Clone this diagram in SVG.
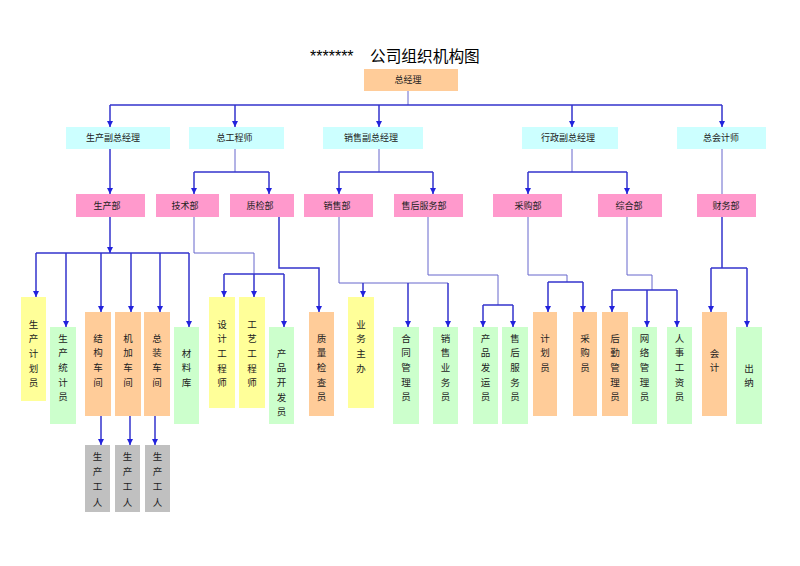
<svg xmlns="http://www.w3.org/2000/svg" width="800" height="566" viewBox="0 0 800 566">
<style>
.t{font-family:"Noto Sans CJK SC","Liberation Sans",sans-serif;font-size:9px;fill:#222;text-anchor:middle}
.v{font-family:"Noto Sans CJK SC","Liberation Sans",sans-serif;font-size:9.5px;fill:#222;text-anchor:middle}
.pe{fill:#FFCC99}.cy{fill:#CCFFFF}.pk{fill:#FF99CC}.ye{fill:#FFFF99}.gr{fill:#CCFFCC}.gy{fill:#C0C0C0}
.k{fill:none;stroke:#3333CC;stroke-width:1.5}
.n{fill:none;stroke:#6666CC;stroke-width:1}
.a{marker-end:url(#ar)}
</style>
<defs>
<marker id="ar" markerUnits="userSpaceOnUse" markerWidth="7" markerHeight="7" refX="6" refY="3" orient="auto"><path d="M0,0 L6,3 L0,6 z" fill="#2222DD"/></marker>
</defs>
<rect width="800" height="566" fill="#fff"/>
<g id="title">
<text x="310" y="62" font-family="Liberation Sans,sans-serif" font-size="16" fill="#000">*******</text>
<text x="370" y="62" font-family="Noto Sans CJK SC,Liberation Sans,sans-serif" font-size="15.7" fill="#000">公司组织机构图</text>
</g>
<g id="connectors">
<path class="n" d="M408,91 V105"/>
<path class="k" d="M110,105 H722"/>
<path class="k a" d="M110,105 V127"/><path class="k a" d="M235,105 V127"/><path class="k a" d="M379,105 V127"/><path class="k a" d="M572,105 V127"/><path class="k a" d="M722,105 V127"/>
<path class="k a" d="M110,149 V194"/>
<path class="n" d="M235,149 V172"/><path class="k" d="M194,172 H269"/><path class="k a" d="M194,172 V194"/><path class="k a" d="M269,172 V194"/>
<path class="n" d="M379,149 V172"/><path class="k" d="M339,172 H433"/><path class="k a" d="M339,172 V194"/><path class="k a" d="M433,172 V194"/>
<path class="n" d="M572,149 V172"/><path class="k" d="M528,172 H627"/><path class="k a" d="M528,172 V194"/><path class="k a" d="M627,172 V194"/>
<path class="n" d="M722,149 V194"/>
<path class="k a" d="M110,217 V253"/><path class="k" d="M36,253 H189"/>
<path class="k a" d="M36,253 V297"/><path class="k a" d="M66,253 V327"/><path class="k a" d="M101,253 V312"/><path class="k a" d="M131,253 V312"/><path class="k a" d="M160,253 V312"/><path class="k a" d="M189,253 V327"/>
<path class="k a" d="M101,416 V445"/><path class="k a" d="M130,416 V445"/><path class="k a" d="M155,416 V445"/>
<path class="n" d="M194,217 V253 H254 V274"/><path class="k" d="M224,274 H284"/>
<path class="k a" d="M224,274 V297"/><path class="k a" d="M254,274 V297"/><path class="k a" d="M284,274 V327"/>
<path class="k a" d="M279,217 V268 H319 V312"/>
<path class="n" d="M339,217 V283 H448"/>
<path class="k a" d="M363,283 V297"/><path class="k a" d="M408,283 V327"/><path class="k a" d="M448,283 V327"/>
<path class="n" d="M428,217 V275 H498 V305"/><path class="k" d="M483,305 H513"/><path class="k a" d="M483,305 V327"/><path class="k a" d="M513,305 V327"/>
<path class="n" d="M528,217 V275 H567 V282"/><path class="k" d="M548,282 H583"/><path class="k a" d="M548,282 V312"/><path class="k a" d="M583,282 V312"/>
<path class="n" d="M627,217 V275 H652 V290"/><path class="k" d="M612,290 H677"/><path class="k a" d="M612,290 V312"/><path class="k a" d="M647,290 V327"/><path class="k a" d="M677,290 V327"/>
<path class="k" d="M722,217 V268"/><path class="k" d="M711,268 H747"/><path class="k a" d="M711,268 V312"/><path class="k a" d="M747,268 V327"/>
</g>
<g id="zongjingli"><rect class="pe" x="364" y="69" width="94" height="22"/><text class="t" x="408" y="83">总经理</text></g>
<g id="scfzjl"><rect class="cy" x="66" y="127" width="104" height="22"/><text class="t" x="113" y="141">生产副总经理</text></g>
<g id="zgcs"><rect class="cy" x="189" y="127" width="95" height="22"/><text class="t" x="234.5" y="141">总工程师</text></g>
<g id="xsfzjl"><rect class="cy" x="323" y="127" width="100" height="22"/><text class="t" x="371" y="141">销售副总经理</text></g>
<g id="xzfzjl"><rect class="cy" x="522" y="127" width="96" height="22"/><text class="t" x="568" y="141">行政副总经理</text></g>
<g id="zkjs"><rect class="cy" x="677" y="127" width="89" height="22"/><text class="t" x="721" y="141">总会计师</text></g>
<g id="scb"><rect class="pk" x="76" y="194" width="69" height="23"/><text class="t" x="107" y="209">生产部</text></g>
<g id="jsb"><rect class="pk" x="156" y="194" width="63" height="23"/><text class="t" x="185" y="209">技术部</text></g>
<g id="zjb"><rect class="pk" x="230" y="194" width="64" height="23"/><text class="t" x="260" y="209">质检部</text></g>
<g id="xsb"><rect class="pk" x="304" y="194" width="69" height="23"/><text class="t" x="337" y="209">销售部</text></g>
<g id="shfwb"><rect class="pk" x="394" y="194" width="69" height="23"/><text class="t" x="424" y="209">售后服务部</text></g>
<g id="cgb"><rect class="pk" x="493" y="194" width="69" height="23"/><text class="t" x="528" y="209">采购部</text></g>
<g id="zhb"><rect class="pk" x="598" y="194" width="64" height="23"/><text class="t" x="629" y="209">综合部</text></g>
<g id="cwb"><rect class="pk" x="697" y="194" width="59" height="23"/><text class="t" x="726" y="209">财务部</text></g>
<g id="scjhy"><rect class="ye" x="21" y="297" width="25" height="104"/><text class="v" y="327.5"><tspan x="33.5">生</tspan><tspan x="33.5" dy="14.7">产</tspan><tspan x="33.5" dy="14.7">计</tspan><tspan x="33.5" dy="14.7">划</tspan><tspan x="33.5" dy="14.7">员</tspan></text></g>
<g id="sctjy"><rect class="gr" x="50" y="327" width="26" height="97"/><text class="v" y="341.5"><tspan x="63">生</tspan><tspan x="63" dy="14.7">产</tspan><tspan x="63" dy="14.7">统</tspan><tspan x="63" dy="14.7">计</tspan><tspan x="63" dy="14.7">员</tspan></text></g>
<g id="jgcj"><rect class="pe" x="85" y="312" width="26" height="104"/><text class="v" y="341.5"><tspan x="98">结</tspan><tspan x="98" dy="14.7">构</tspan><tspan x="98" dy="14.7">车</tspan><tspan x="98" dy="14.7">间</tspan></text></g>
<g id="jjcj"><rect class="pe" x="115" y="312" width="26" height="104"/><text class="v" y="341.5"><tspan x="128">机</tspan><tspan x="128" dy="14.7">加</tspan><tspan x="128" dy="14.7">车</tspan><tspan x="128" dy="14.7">间</tspan></text></g>
<g id="zzcj"><rect class="pe" x="144" y="312" width="26" height="104"/><text class="v" y="341.5"><tspan x="157">总</tspan><tspan x="157" dy="14.7">装</tspan><tspan x="157" dy="14.7">车</tspan><tspan x="157" dy="14.7">间</tspan></text></g>
<g id="clk"><rect class="gr" x="174" y="327" width="25" height="97"/><text class="v" y="356.5"><tspan x="186.5">材</tspan><tspan x="186.5" dy="14.7">料</tspan><tspan x="186.5" dy="14.7">库</tspan></text></g>
<g id="sjgcs"><rect class="ye" x="209" y="297" width="26" height="111"/><text class="v" y="327.5"><tspan x="222">设</tspan><tspan x="222" dy="14.7">计</tspan><tspan x="222" dy="14.7">工</tspan><tspan x="222" dy="14.7">程</tspan><tspan x="222" dy="14.7">师</tspan></text></g>
<g id="gygcs"><rect class="ye" x="239" y="297" width="26" height="111"/><text class="v" y="327.5"><tspan x="252">工</tspan><tspan x="252" dy="14.7">艺</tspan><tspan x="252" dy="14.7">工</tspan><tspan x="252" dy="14.7">程</tspan><tspan x="252" dy="14.7">师</tspan></text></g>
<g id="cpkfy"><rect class="gr" x="269" y="327" width="25" height="97"/><text class="v" y="356.5"><tspan x="281.5">产</tspan><tspan x="281.5" dy="14.7">品</tspan><tspan x="281.5" dy="14.7">开</tspan><tspan x="281.5" dy="14.7">发</tspan><tspan x="281.5" dy="14.7">员</tspan></text></g>
<g id="zljcy"><rect class="pe" x="309" y="312" width="25" height="104"/><text class="v" y="341.5"><tspan x="321.5">质</tspan><tspan x="321.5" dy="14.7">量</tspan><tspan x="321.5" dy="14.7">检</tspan><tspan x="321.5" dy="14.7">查</tspan><tspan x="321.5" dy="14.7">员</tspan></text></g>
<g id="ywzb"><rect class="ye" x="348" y="297" width="26" height="111"/><text class="v" y="327.5"><tspan x="361">业</tspan><tspan x="361" dy="14.7">务</tspan><tspan x="361" dy="14.7">主</tspan><tspan x="361" dy="14.7">办</tspan></text></g>
<g id="htgly"><rect class="gr" x="393" y="327" width="26" height="97"/><text class="v" y="341.5"><tspan x="406">合</tspan><tspan x="406" dy="14.7">同</tspan><tspan x="406" dy="14.7">管</tspan><tspan x="406" dy="14.7">理</tspan><tspan x="406" dy="14.7">员</tspan></text></g>
<g id="xsywy"><rect class="gr" x="433" y="327" width="25" height="97"/><text class="v" y="341.5"><tspan x="445.5">销</tspan><tspan x="445.5" dy="14.7">售</tspan><tspan x="445.5" dy="14.7">业</tspan><tspan x="445.5" dy="14.7">务</tspan><tspan x="445.5" dy="14.7">员</tspan></text></g>
<g id="cpfyy"><rect class="gr" x="473" y="327" width="25" height="97"/><text class="v" y="341.5"><tspan x="485.5">产</tspan><tspan x="485.5" dy="14.7">品</tspan><tspan x="485.5" dy="14.7">发</tspan><tspan x="485.5" dy="14.7">运</tspan><tspan x="485.5" dy="14.7">员</tspan></text></g>
<g id="shfwy"><rect class="gr" x="502" y="327" width="26" height="97"/><text class="v" y="341.5"><tspan x="515">售</tspan><tspan x="515" dy="14.7">后</tspan><tspan x="515" dy="14.7">服</tspan><tspan x="515" dy="14.7">务</tspan><tspan x="515" dy="14.7">员</tspan></text></g>
<g id="jhy"><rect class="pe" x="533" y="312" width="24" height="104"/><text class="v" y="341.5"><tspan x="545">计</tspan><tspan x="545" dy="14.7">划</tspan><tspan x="545" dy="14.7">员</tspan></text></g>
<g id="cgy"><rect class="pe" x="573" y="312" width="24" height="104"/><text class="v" y="341.5"><tspan x="585">采</tspan><tspan x="585" dy="14.7">购</tspan><tspan x="585" dy="14.7">员</tspan></text></g>
<g id="hqgly"><rect class="pe" x="602" y="312" width="26" height="104"/><text class="v" y="341.5"><tspan x="615">后</tspan><tspan x="615" dy="14.7">勤</tspan><tspan x="615" dy="14.7">管</tspan><tspan x="615" dy="14.7">理</tspan><tspan x="615" dy="14.7">员</tspan></text></g>
<g id="wlgly"><rect class="gr" x="632" y="327" width="25" height="97"/><text class="v" y="341.5"><tspan x="644.5">网</tspan><tspan x="644.5" dy="14.7">络</tspan><tspan x="644.5" dy="14.7">管</tspan><tspan x="644.5" dy="14.7">理</tspan><tspan x="644.5" dy="14.7">员</tspan></text></g>
<g id="rsgzy"><rect class="gr" x="667" y="327" width="25" height="97"/><text class="v" y="341.5"><tspan x="679.5">人</tspan><tspan x="679.5" dy="14.7">事</tspan><tspan x="679.5" dy="14.7">工</tspan><tspan x="679.5" dy="14.7">资</tspan><tspan x="679.5" dy="14.7">员</tspan></text></g>
<g id="kj"><rect class="pe" x="702" y="312" width="25" height="104"/><text class="v" y="356.5"><tspan x="714.5">会</tspan><tspan x="714.5" dy="14.7">计</tspan></text></g>
<g id="cn"><rect class="gr" x="736" y="327" width="26" height="97"/><text class="v" y="371.5"><tspan x="749">出</tspan><tspan x="749" dy="14.7">纳</tspan></text></g>
<g id="scgr1"><rect class="gy" x="85" y="445" width="25" height="67"/><text class="v" y="459.5"><tspan x="97.5">生</tspan><tspan x="97.5" dy="15.4">产</tspan><tspan x="97.5" dy="15.4">工</tspan><tspan x="97.5" dy="15.4">人</tspan></text></g>
<g id="scgr2"><rect class="gy" x="115" y="445" width="25" height="67"/><text class="v" y="459.5"><tspan x="127.5">生</tspan><tspan x="127.5" dy="15.4">产</tspan><tspan x="127.5" dy="15.4">工</tspan><tspan x="127.5" dy="15.4">人</tspan></text></g>
<g id="scgr3"><rect class="gy" x="145" y="445" width="25" height="67"/><text class="v" y="459.5"><tspan x="157.5">生</tspan><tspan x="157.5" dy="15.4">产</tspan><tspan x="157.5" dy="15.4">工</tspan><tspan x="157.5" dy="15.4">人</tspan></text></g>
</svg>
